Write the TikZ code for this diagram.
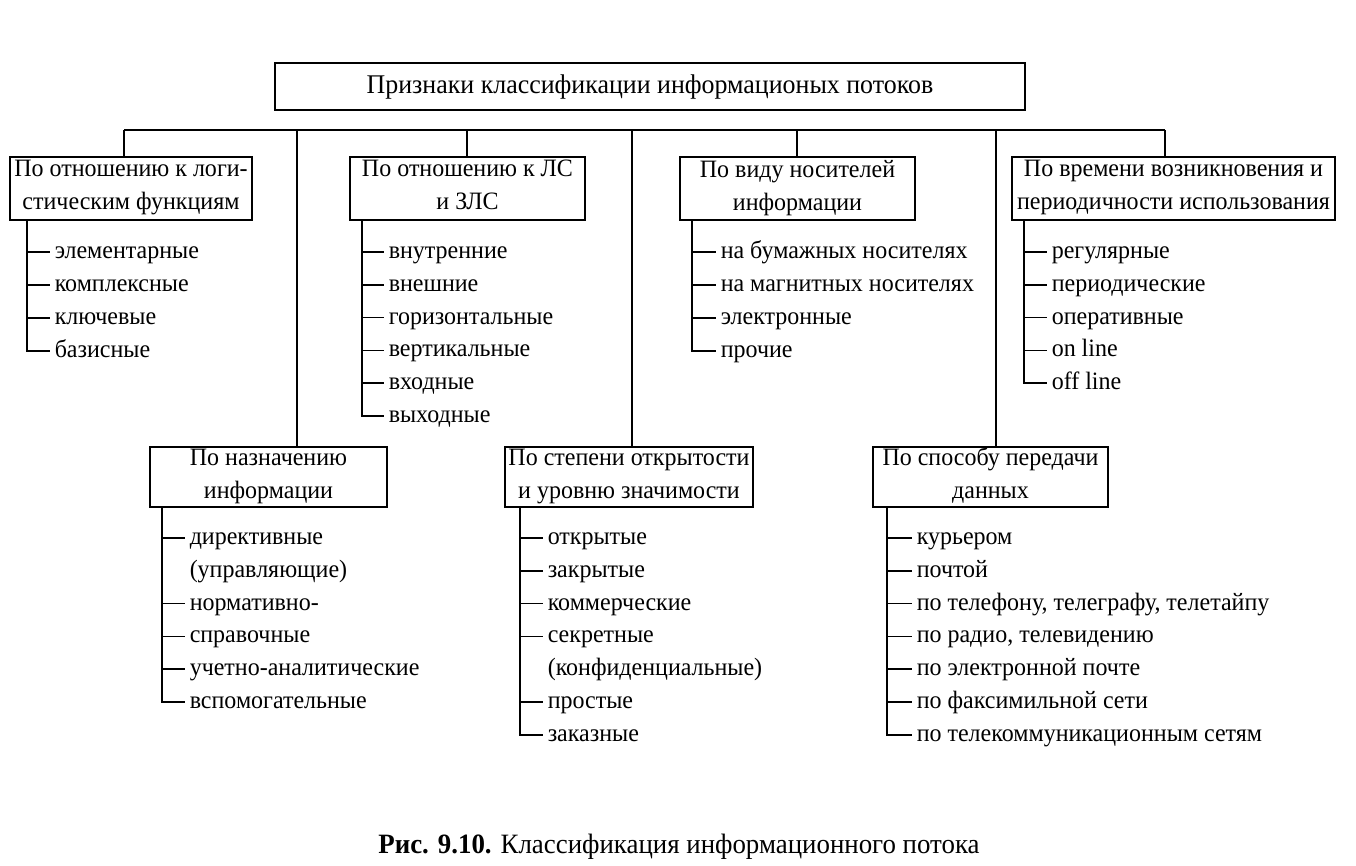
\documentclass[tikz,border=0pt]{standalone}
\usepackage{fontspec}
\setmainfont[FakeStretch=0.96]{Liberation Serif}
\begin{document}
\begin{tikzpicture}[x=1pt, y=-1pt, line width=1.5pt,
    font=\fontsize{25}{33}\selectfont,
    crit/.style={draw, align=center, inner sep=0pt, minimum height=63pt,
      execute at begin node=\rule{0pt}{21pt},
      execute at end node=\rule[-7pt]{0pt}{7pt}},
    upper/.style={crit,
      execute at begin node=\rule{0pt}{23pt},
      execute at end node=\rule[-6pt]{0pt}{6pt}},
    item/.style={anchor=west, inner xsep=4pt, inner ysep=0pt,
      text height=20pt, text depth=7pt}]
  \useasboundingbox (0,0) rectangle (1356,866);

  % title and bus
  \node[crit, minimum width=750pt, minimum height=47pt,
    font=\fontsize{27}{33}\selectfont] (head) at (650, 86.5)
    {Признаки классификации информационых потоков};
  \coordinate (busL) at (124, 130);
  \coordinate (busR) at (1165, 130);
  \draw (busL) -- (busR);

  % upper row
  \node[upper, minimum width=242pt] (logist) at (131, 188.5)
    {По отношению к логи-\\стическим функциям};
  \node[upper, minimum width=235pt] (zls) at (467.5, 188.5)
    {По отношению к ЛС\\и ЗЛС};
  \node[upper, minimum width=235pt] (carrier) at (797.5, 188.5)
    {По виду носителей\\информации};
  \node[upper, minimum width=323pt] (time) at (1173.5, 188.5)
    {По времени возникновения и\\периодичности использования};

  % lower row
  \node[crit, minimum width=237pt, minimum height=60pt] (purpose) at (268.5, 477)
    {По назначению\\информации};
  \node[crit, minimum width=248pt, minimum height=60pt] (open) at (629, 477)
    {По степени открытости\\и уровню значимости};
  \node[crit, minimum width=235pt, minimum height=60pt] (transfer) at (990.5, 477)
    {По способу передачи\\данных};

  % drops from the bus
  \draw (busL) -- (busL |- logist.north);
  \draw (297, 130) -- (297, 130 |- purpose.north);
  \draw (467, 130) -- (467, 130 |- zls.north);
  \draw (632, 130) -- (632, 130 |- open.north);
  \draw (797, 130) -- (797, 130 |- carrier.north);
  \draw (996, 130) -- (996, 130 |- transfer.north);
  \draw (busR) -- (busR |- time.north);

  % lists of the upper row
  \foreach \t [count=\i] in {элементарные, комплексные, ключевые, базисные}
    \node[item] (lg\i) at (50, 252 + 33*\i - 33) {\t};
  \coordinate (lgv) at (27, 0);
  \draw (lgv |- logist.south) -- (lgv |- lg4.west) -- (lg4.west);
  \foreach \i in {1,2,3} \draw (lgv |- lg\i.west) -- (lg\i.west);

  \foreach \t [count=\i] in {внутренние, внешние, горизонтальные, вертикальные, входные, выходные}
    \node[item] (zl\i) at (384, 252 + 32.8*\i - 32.8) {\t};
  \coordinate (zlv) at (362, 0);
  \draw (zlv |- zls.south) -- (zlv |- zl6.west) -- (zl6.west);
  \foreach \i in {1,...,5} \draw (zlv |- zl\i.west) -- (zl\i.west);

  \foreach \t [count=\i] in {на бумажных носителях, на магнитных носителях, электронные, прочие}
    \node[item] (cr\i) at (716, 252 + 33*\i - 33) {\t};
  \coordinate (crv) at (692, 0);
  \draw (crv |- carrier.south) -- (crv |- cr4.west) -- (cr4.west);
  \foreach \i in {1,2,3} \draw (crv |- cr\i.west) -- (cr\i.west);

  \foreach \t [count=\i] in {регулярные, периодические, оперативные, on line, off line}
    \node[item] (tm\i) at (1047, 252 + 32.8*\i - 32.8) {\t};
  \coordinate (tmv) at (1024, 0);
  \draw (tmv |- time.south) -- (tmv |- tm5.west) -- (tm5.west);
  \foreach \i in {1,...,4} \draw (tmv |- tm\i.west) -- (tm\i.west);

  % lists of the lower row
  \foreach \t [count=\i] in {директивные, (управляющие), нормативно-, справочные, учетно-аналитические, вспомогательные}
    \node[item] (pp\i) at (185, 538 + 32.8*\i - 32.8) {\t};
  \coordinate (ppv) at (162, 0);
  \draw (ppv |- purpose.south) -- (ppv |- pp6.west) -- (pp6.west);
  \foreach \i in {1,3,4,5} \draw (ppv |- pp\i.west) -- (pp\i.west);

  \foreach \t [count=\i] in {открытые, закрытые, коммерческие, секретные, (конфиденциальные), простые, заказные}
    \node[item] (op\i) at (543, 538 + 32.8*\i - 32.8) {\t};
  \coordinate (opv) at (520, 0);
  \draw (opv |- open.south) -- (opv |- op7.west) -- (op7.west);
  \foreach \i in {1,2,3,4,6} \draw (opv |- op\i.west) -- (op\i.west);

  \foreach \t [count=\i] in {курьером, почтой, {по телефону, телеграфу, телетайпу}, {по радио, телевидению}, по электронной почте, по факсимильной сети, по телекоммуникационным сетям}
    \node[item] (tr\i) at (912, 538 + 32.8*\i - 32.8) {\t};
  \coordinate (trv) at (887, 0);
  \draw (trv |- transfer.south) -- (trv |- tr7.west) -- (tr7.west);
  \foreach \i in {1,...,6} \draw (trv |- tr\i.west) -- (tr\i.west);

  % caption
  \node[font=\fontsize{28}{33}\selectfont] (caption) at (679, 847)
    {\textbf{Рис. 9.10.} Классификация информационного потока};
\end{tikzpicture}
\end{document}
